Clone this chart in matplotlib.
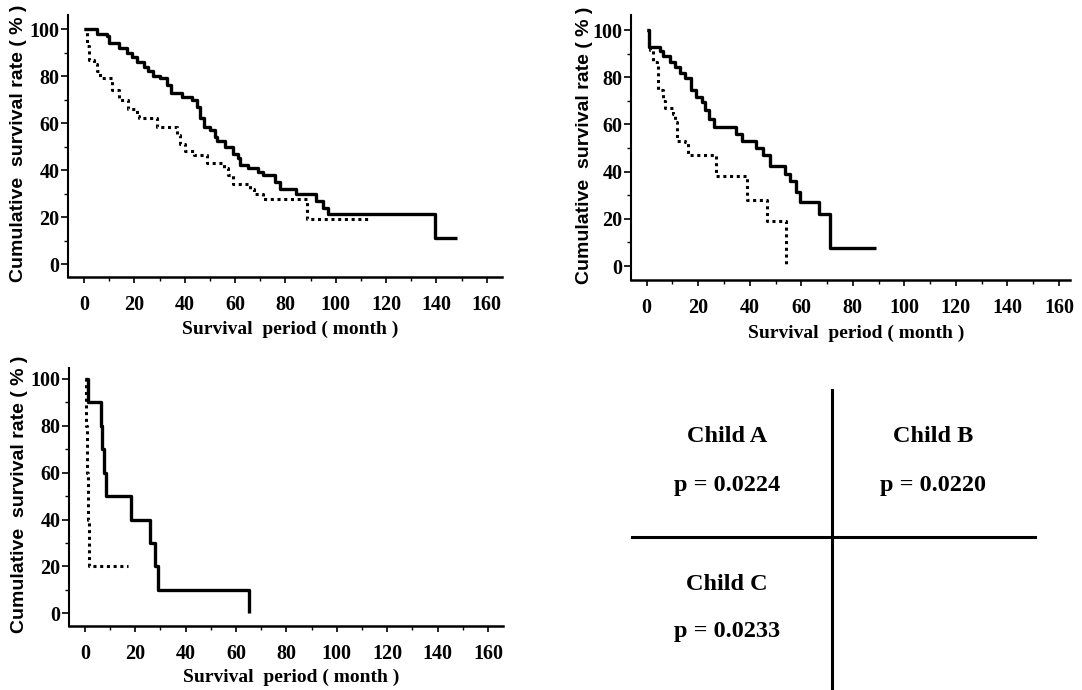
import matplotlib
matplotlib.use("Agg")
import matplotlib.pyplot as plt
from matplotlib.lines import Line2D
from matplotlib.ticker import MultipleLocator

# Child A
a_solid_t = [0, 5, 9, 10, 14, 17, 19, 21, 24, 25.5, 27.5, 30, 33, 34.5, 39, 43, 45, 46, 47.5,
             50, 52, 53, 56, 59, 61, 62, 65, 69, 71, 76, 78, 84, 92, 95, 97, 139.5, 148]
a_solid_s = [100, 98, 97, 94, 92, 90, 88, 86, 84, 82, 80, 79, 76, 73, 71, 70, 67, 62, 58.5,
             57, 54, 52.5, 50, 47, 45, 42, 41, 39, 38, 35, 32, 30, 27, 24, 21.5, 11, 11]
a_dot_t = [0, 1, 2, 4, 5, 6.5, 11, 14, 17.5, 21, 22, 29, 37, 38, 40, 43.5, 49, 55.5, 57, 59,
           66, 67.5, 71, 88.5, 113]
a_dot_s = [100, 93, 87, 85, 82, 79, 74, 70, 66, 63, 62, 58.5, 55, 51, 48, 46.5, 43, 41, 38, 34,
           32, 30, 27.5, 19, 19]

# Child B
b_solid_t = [0, 1, 5, 6.5, 9, 11, 13, 15, 17, 19, 21.5, 22.5, 24, 26, 34.5, 37, 42.5, 45, 48,
             53.5, 55.5, 58, 59.5, 67, 71, 89]
b_solid_s = [100, 93, 91, 89, 86.5, 84.5, 82, 79.5, 74.5, 71.5, 69.5, 66, 62.5, 59, 56, 53, 50,
             47, 42.5, 39, 36, 31.5, 27, 22, 7.5, 7.5]
b_dot_t = [0, 1, 1.3, 2.6, 4, 4.5, 6.5, 7, 10.3, 11, 11.6, 15, 16, 27, 39, 46.5, 54]
b_dot_s = [100, 94, 91.5, 86.5, 85, 74.5, 70, 67, 64.5, 61, 53, 52.5, 47, 38, 28, 19, 1]

# Child C
c_solid_t = [0, 1.3, 6.2, 6.8, 7.5, 8.2, 18.5, 26, 27.8, 29, 65]
c_solid_s = [100, 90, 80, 70, 60, 50, 40, 30, 20, 10, 0]
c_dot_t = [0, 0.5, 0.8, 1.2, 1.6, 17]
c_dot_s = [100, 80, 60, 40, 20, 20]

groups = ["Child A", "Child B", "Child C"]
p_values = ["p = 0.0224", "p = 0.0220", "p = 0.0233"]

serif = "Liberation Serif"
narrow = ["Liberation Sans Narrow", "Liberation Sans"]

fig = plt.figure(figsize=(10.82, 6.9), dpi=100)

panels = [
    ([0.0628, 0.5986, 0.4011, 0.3797], (-6.4, 166), (-5.5, 106), -0.113,
     a_solid_t, a_solid_s, a_dot_t, a_dot_s),
    ([0.5832, 0.5942, 0.4057, 0.3841], (-6.1, 164.3), (-5.9, 106.4), -0.107,
     b_solid_t, b_solid_s, b_dot_t, b_dot_s),
    ([0.0638, 0.0928, 0.4011, 0.3739], (-6.3, 166), (-5.4, 104.7), -0.115,
     c_solid_t, c_solid_s, c_dot_t, c_dot_s),
]

for rect, xl, yl, ylab_x, st, ss, dt, ds in panels:
    ax = fig.add_axes(rect)
    ax.step(st, ss, where="post", color="black", lw=2.4, solid_capstyle="butt")
    ax.step(dt, ds, where="post", color="black", lw=2.2, dashes=(1, 1.2))
    ax.set_xlim(*xl)
    ax.set_ylim(*yl)
    ax.spines["top"].set_visible(False)
    ax.spines["right"].set_visible(False)
    ax.spines["left"].set_linewidth(1.5)
    ax.spines["bottom"].set_linewidth(1.8)
    ax.xaxis.set_major_locator(MultipleLocator(20))
    ax.xaxis.set_minor_locator(MultipleLocator(10))
    ax.yaxis.set_major_locator(MultipleLocator(20))
    ax.yaxis.set_minor_locator(MultipleLocator(10))
    ax.set_xticks(range(0, 161, 20))
    ax.set_yticks(range(0, 101, 20))
    ax.tick_params(axis="x", which="major", length=4, width=1.2, pad=9)
    ax.tick_params(axis="y", which="major", length=5, width=1.2, pad=1)
    ax.tick_params(which="minor", length=3, width=1.0)
    for lab in ax.get_xticklabels() + ax.get_yticklabels():
        lab.set_fontfamily(serif)
        lab.set_fontweight("bold")
        lab.set_fontsize(14.5)
    ax.text(0.513, -0.2, "Survival  period ( month )", transform=ax.transAxes,
            ha="center", va="center", fontfamily=serif, fontweight="bold", fontsize=14)
    ax.text(ylab_x, 0.51, "Cumulative  survival rate ( % )", transform=ax.transAxes,
            rotation=90, ha="center", va="center", family=narrow, fontweight="bold",
            fontsize=14)

# cross with p-values
fig.add_artist(Line2D([0.7687, 0.7687], [0.4348, 0.0], transform=fig.transFigure,
                      color="black", lw=2.2))
fig.add_artist(Line2D([0.5838, 0.9566], [0.2213, 0.2213], transform=fig.transFigure,
                      color="black", lw=2.2))

label_pos = [(0.6716, 0.3671, 0.2971), (0.8623, 0.3671, 0.2971), (0.6719, 0.1522, 0.0845)]
for g, p, (x, yg, yp) in zip(groups, p_values, label_pos):
    fig.text(x, yg, g, ha="center", va="center", fontfamily=serif, fontweight="bold",
             fontsize=17.5)
    fig.text(x, yp, p, ha="center", va="center", fontfamily=serif, fontweight="bold",
             fontsize=17.5)

fig.savefig("out.png", dpi=100)
